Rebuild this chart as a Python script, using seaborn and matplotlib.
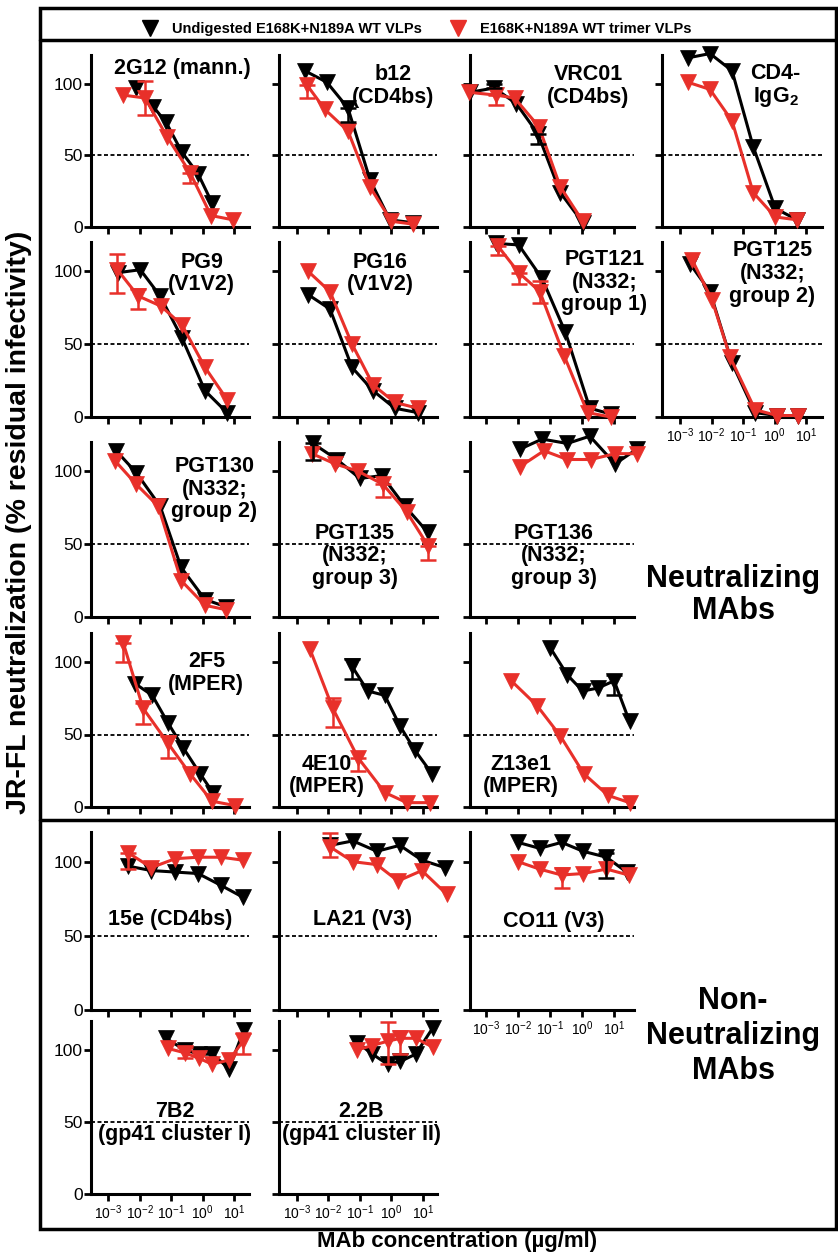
import numpy as np
import pandas as pd
import seaborn as sns
import matplotlib.pyplot as plt
from matplotlib.lines import Line2D
from matplotlib.patches import Rectangle
from matplotlib.ticker import FixedLocator, NullLocator

RED = "#e8302a"
W, H = 838, 1254

# panel labels and grid position (row, col)
panel_names = ["2G12 (mann.)", "b12\n(CD4bs)", "VRC01\n(CD4bs)", "CD4-\nIgG$\\mathbf{_2}$",
               "PG9\n(V1V2)", "PG16\n(V1V2)", "PGT121\n(N332;\ngroup 1)", "PGT125\n(N332;\ngroup 2)",
               "PGT130\n(N332;\ngroup 2)", "PGT135\n(N332;\ngroup 3)", "PGT136\n(N332;\ngroup 3)",
               "2F5\n(MPER)", "4E10\n(MPER)", "Z13e1\n(MPER)",
               "15e (CD4bs)", "LA21 (V3)", "CO11 (V3)",
               "7B2\n(gp41 cluster I)", "2.2B\n(gp41 cluster II)"]
panel_rc = [(0, 0), (0, 1), (0, 2), (0, 3), (1, 0), (1, 1), (1, 2), (1, 3),
            (2, 0), (2, 1), (2, 2), (3, 0), (3, 1), (3, 2),
            (4, 0), (4, 1), (4, 2), (5, 0), (5, 1)]
label_xy = [(0.58, 0.92), (0.72, 0.82), (0.72, 0.82), (0.71, 0.82),
            (0.70, 0.82), (0.64, 0.82), (0.82, 0.77), (0.69, 0.82),
            (0.78, 0.73), (0.48, 0.35), (0.51, 0.35),
            (0.73, 0.77), (0.30, 0.18), (0.31, 0.18),
            (0.50, 0.51), (0.53, 0.51), (0.51, 0.50),
            (0.53, 0.41), (0.52, 0.41)]

# log10 MAb concentration (ug/ml) and % residual infectivity
black_x = [[-2.11, -1.57, -1.16, -0.65, -0.14, 0.30], [-2.75, -2.05, -1.38, -0.68, -0.05, 0.68],
           [-3.50, -2.74, -2.05, -1.38, -0.68, 0.02], [-2.75, -2.05, -1.35, -0.68, 0.02, 0.71],
           [-2.68, -1.98, -1.35, -0.65, 0.08, 0.78], [-2.65, -1.95, -1.25, -0.58, 0.11, 0.84],
           [-2.68, -1.98, -1.25, -0.52, 0.24, 0.90], [-2.68, -2.05, -1.35, -0.62, 0.08, 0.75],
           [-2.75, -2.11, -1.35, -0.68, 0.08, 0.75], [-2.49, -1.73, -1.00, -0.30, 0.43, 1.16],
           [-1.95, -1.25, -0.46, 0.24, 1.03, 1.70],
           [-2.14, -1.60, -1.10, -0.62, -0.08, 0.33], [-1.25, -0.75, -0.21, 0.27, 0.75, 1.29],
           [-1.00, -0.46, 0.02, 0.49, 1.00, 1.48],
           [-2.37, -1.63, -0.87, -0.14, 0.59, 1.29], [-1.95, -1.22, -0.46, 0.27, 0.97, 1.70],
           [-2.00, -1.33, -0.64, 0.03, 0.76, 1.39],
           [-1.17, -0.57, -0.10, 0.31, 0.85, 1.32], [-1.08, -0.60, -0.12, 0.29, 0.77, 1.31]]
black_y = [[97, 84, 73, 52, 37, 17], [109, 101, 83, 33, 5, 3], [94, 97, 86, 65, 24, 3],
           [118, 121, 109, 56, 13, 5], [99, 101, 83, 54, 18, 3], [84, 74, 34, 18, 6, 3],
           [119, 118, 95, 58, 6, 2], [105, 86, 37, 3, 1, 1], [114, 99, 76, 34, 12, 7],
           [119, 108, 95, 97, 76, 58], [115, 122, 119, 124, 105, 115],
           [85, 77, 58, 41, 23, 10], [97, 80, 77, 56, 39, 23], [110, 91, 80, 82, 87, 59],
           [97, 94, 93, 92, 84, 76], [111, 114, 107, 111, 101, 96], [113, 109, 113, 107, 103, 93],
           [108, 100, 97, 97, 87, 114], [105, 97, 90, 92, 97, 115]]
red_x = [[-2.52, -1.83, -1.13, -0.40, 0.27, 0.97], [-2.68, -2.11, -1.38, -0.68, 0.00, 0.68],
         [-3.54, -2.68, -2.11, -1.35, -0.68, 0.02], [-2.75, -2.05, -1.35, -0.68, 0.02, 0.71],
         [-2.71, -2.05, -1.32, -0.65, 0.08, 0.78], [-2.65, -1.95, -1.25, -0.58, 0.11, 0.84],
         [-2.62, -1.98, -1.32, -0.56, 0.17, 0.90], [-2.62, -1.98, -1.41, -0.62, 0.08, 0.75],
         [-2.78, -2.11, -1.41, -0.68, 0.08, 0.75], [-2.52, -1.79, -1.06, -0.27, 0.49, 1.16],
         [-1.95, -1.19, -0.46, 0.27, 1.03, 1.70],
         [-2.52, -1.89, -1.10, -0.40, 0.30, 1.03], [-2.59, -1.86, -1.06, -0.21, 0.49, 1.22],
         [-2.21, -1.41, -0.68, 0.05, 0.81, 1.48],
         [-2.37, -1.63, -0.87, -0.14, 0.59, 1.29], [-1.95, -1.22, -0.46, 0.21, 0.97, 1.76],
         [-2.00, -1.33, -0.64, 0.03, 0.76, 1.45],
         [-1.11, -0.57, -0.10, 0.31, 0.85, 1.29], [-1.08, -0.60, -0.12, 0.29, 0.77, 1.31]]
red_y = [[92, 90, 63, 38, 8, 5], [99, 82, 67, 28, 4, 2], [94, 92, 90, 70, 28, 4],
         [101, 96, 74, 24, 7, 5], [101, 83, 76, 63, 34, 12], [100, 86, 50, 22, 10, 6],
         [117, 99, 86, 42, 3, 0], [108, 80, 41, 5, 1, 1], [107, 91, 76, 25, 8, 5],
         [112, 105, 100, 91, 72, 49], [103, 114, 108, 108, 112, 112],
         [113, 68, 44, 23, 4, 1], [109, 68, 34, 10, 3, 3], [87, 70, 49, 23, 8, 3],
         [106, 96, 102, 103, 103, 101], [110, 100, 98, 87, 94, 78], [100, 95, 91, 92, 95, 91],
         [101, 98, 94, 90, 93, 106], [100, 103, 106, 108, 108, 102]]

# error bars: panel, series, point index, low, high
err_panel = [0, 0, 1, 1, 2, 2, 2, 4, 4, 6, 6, 6, 9, 9, 9, 11, 11, 11, 12, 12, 12, 13, 14, 15, 16, 16, 17, 17, 18, 18]
err_series = ["r", "r", "k", "r", "r", "k", "k", "r", "r", "r", "r", "r", "k", "r", "r",
              "r", "r", "r", "r", "r", "k", "k", "r", "r", "k", "r", "r", "r", "r", "r"]
err_point = [1, 3, 2, 0, 1, 1, 3, 0, 1, 0, 1, 2, 0, 3, 5, 0, 1, 2, 1, 2, 0, 4, 0, 0, 4, 2, 1, 5, 2, 3]
err_lo = [78, 31, 73, 90, 85, 97, 58, 85, 74, 111, 91, 78, 108, 82, 39, 100, 57, 34, 55, 25, 88, 77, 95, 103, 89, 82, 94, 97, 90, 97]
err_hi = [102, 38, 83, 99, 92, 100, 65, 112, 88, 117, 99, 93, 119, 91, 49, 113, 72, 49, 75, 34, 102, 91, 106, 119, 106, 96, 102, 112, 119, 113]

xtick_vals = [1e-3, 1e-2, 1e-1, 1e0, 1e1]
ytick_vals = [0, 50, 100]
xlabel_panels = [7, 16, 17, 18]

sns.set_style("ticks")
plt.rcParams["font.family"] = ["Liberation Sans", "DejaVu Sans"]
plt.rcParams["mathtext.fontset"] = "custom"
plt.rcParams["mathtext.rm"] = "Liberation Sans"
plt.rcParams["mathtext.bf"] = "Liberation Sans:bold"
for key in ["text.color", "axes.labelcolor", "xtick.color", "ytick.color", "axes.edgecolor"]:
    plt.rcParams[key] = "black"

fig = plt.figure(figsize=(W / 100, H / 100), dpi=100)

col_left = [91, 279, 470, 662]
col_width = [158, 158, 164, 160]
col_xlim = [(-3.55, 1.48), (-3.57, 1.45), (-3.5, 1.62), (-3.57, 1.5)]
row_bottom = [227, 417, 617, 807, 1010, 1194]
row_top = [55, 242, 442, 633, 832, 1021]

for i, name in enumerate(panel_names):
    r, c = panel_rc[i]
    ax = fig.add_axes([col_left[c] / W, 1 - row_bottom[r] / H,
                       col_width[c] / W, (row_bottom[r] - row_top[r]) / H])
    df = pd.DataFrame({
        "conc": 10 ** np.array(black_x[i] + red_x[i]),
        "resid": black_y[i] + red_y[i],
        "vlp": ["k"] * len(black_x[i]) + ["r"] * len(red_x[i]),
    })
    ax.axhline(50, color="black", ls=(0, (2.2, 1.4)), lw=1.3, zorder=1)
    for key, col in [("k", "black"), ("r", RED)]:
        sub = df[df.vlp == key]
        sns.lineplot(data=sub, x="conc", y="resid", color=col, marker="v", markersize=11,
                     markeredgecolor=col, markeredgewidth=0.5, lw=2.2, estimator=None,
                     sort=False, ax=ax, clip_on=False, zorder=3 if key == "k" else 4)
    for p, s, k, lo, hi in zip(err_panel, err_series, err_point, err_lo, err_hi):
        if p != i:
            continue
        xs = black_x[i] if s == "k" else red_x[i]
        ys = black_y[i] if s == "k" else red_y[i]
        ax.errorbar([10 ** xs[k]], [ys[k]], yerr=[[ys[k] - lo], [hi - ys[k]]], fmt="none",
                    ecolor="black" if s == "k" else RED, elinewidth=1.8, capsize=6,
                    capthick=1.8, zorder=5, clip_on=False)
    ax.set_xscale("log")
    ax.set_xlim(10 ** col_xlim[c][0], 10 ** col_xlim[c][1])
    ax.set_ylim(0, 120)
    ax.xaxis.set_major_locator(FixedLocator(xtick_vals))
    ax.xaxis.set_minor_locator(NullLocator())
    ax.set_yticks(ytick_vals)
    ax.set_xlabel("")
    ax.set_ylabel("")
    sns.despine(ax=ax)
    for sp in ["left", "bottom"]:
        ax.spines[sp].set_linewidth(2.2)
        ax.spines[sp].set_color("black")
    ax.tick_params(width=2, length=5, colors="black", pad=2)
    ax.tick_params(axis="y", labelsize=12.5, pad=1, labelleft=(c == 0))
    ax.tick_params(axis="x", labelsize=10, labelbottom=(i in xlabel_panels))
    lx, ly = label_xy[i]
    ax.text(lx, ly, name, transform=ax.transAxes, ha="center", va="center",
            fontsize=15.5, fontweight="bold", linespacing=1.1, zorder=6, color="black")

# frame and separators
fig.add_artist(Rectangle((40 / W, 1 - 1229 / H), (836 - 40) / W, (1229 - 8) / H,
                         fill=False, lw=2.5, ec="black", transform=fig.transFigure))
for py in [40, 820]:
    fig.add_artist(Line2D([40 / W, 836 / W], [1 - py / H, 1 - py / H], lw=2.5,
                          color="black", transform=fig.transFigure))

# legend
for px, col, txt in [(150, "black", "Undigested E168K+N189A WT VLPs"),
                     (458, RED, "E168K+N189A WT trimer VLPs")]:
    fig.add_artist(Line2D([px / W], [1 - 28 / H], marker="v", markersize=11, color=col,
                          ls="none", transform=fig.transFigure))
    fig.text((px + 22) / W, 1 - 29 / H, txt, ha="left", va="center", fontsize=10.5,
             fontweight="bold")

fig.text(19 / W, 1 - 522 / H, "JR-FL neutralization (% residual infectivity)", rotation=90,
         ha="center", va="center", fontsize=20.5, fontweight="bold")
fig.text(457 / W, 1 - 1242 / H, "MAb concentration (µg/ml)", ha="center", va="center",
         fontsize=16, fontweight="bold")
fig.text(733 / W, 1 - 595 / H, "Neutralizing\nMAbs", ha="center", va="center",
         fontsize=22, fontweight="bold", linespacing=1.05)
fig.text(733 / W, 1 - 1036 / H, "Non-\nNeutralizing\nMAbs", ha="center", va="center",
         fontsize=22, fontweight="bold", linespacing=1.2)

fig.savefig("out.png", dpi=100)
